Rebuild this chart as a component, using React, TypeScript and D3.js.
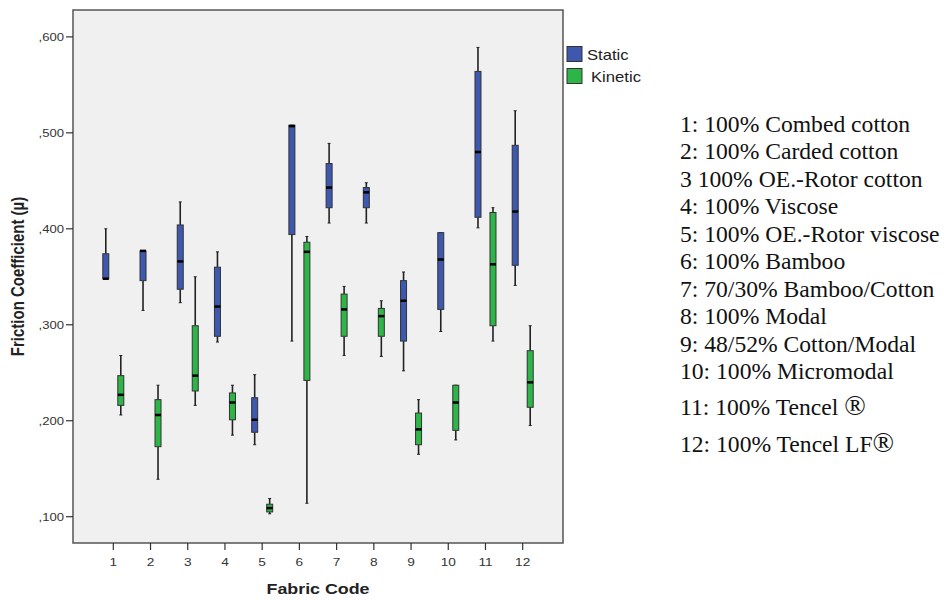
import React from 'react';
import * as d3 from 'd3';

const width = 944;
const height = 600;

const plot = { left: 73, right: 563, top: 10, bottom: 543 };

const codes = [1, 2, 3, 4, 5, 6, 7, 8, 9, 10, 11, 12];

// [min, q1, median, q3, max]
const staticBoxes = [
  [0.348, 0.348, 0.348, 0.374, 0.4],
  [0.315, 0.346, 0.377, 0.377, 0.377],
  [0.323, 0.337, 0.366, 0.404, 0.428],
  [0.282, 0.288, 0.319, 0.36, 0.376],
  [0.175, 0.188, 0.201, 0.224, 0.248],
  [0.283, 0.394, 0.507, 0.508, 0.508],
  [0.406, 0.422, 0.443, 0.468, 0.489],
  [0.406, 0.422, 0.438, 0.443, 0.448],
  [0.252, 0.283, 0.325, 0.346, 0.355],
  [0.293, 0.316, 0.368, 0.396, 0.396],
  [0.401, 0.412, 0.48, 0.564, 0.589],
  [0.341, 0.362, 0.418, 0.487, 0.523],
];

const kineticBoxes = [
  [0.206, 0.216, 0.227, 0.247, 0.268],
  [0.139, 0.173, 0.206, 0.222, 0.237],
  [0.216, 0.231, 0.247, 0.299, 0.35],
  [0.185, 0.201, 0.219, 0.229, 0.237],
  [0.103, 0.105, 0.109, 0.113, 0.119],
  [0.114, 0.242, 0.376, 0.386, 0.392],
  [0.268, 0.288, 0.316, 0.332, 0.34],
  [0.267, 0.288, 0.309, 0.317, 0.325],
  [0.165, 0.175, 0.191, 0.208, 0.222],
  [0.18, 0.19, 0.219, 0.237, 0.237],
  [0.283, 0.299, 0.363, 0.417, 0.422],
  [0.195, 0.214, 0.24, 0.273, 0.299],
];

const yTicks = [0.1, 0.2, 0.3, 0.4, 0.5, 0.6];

const series = [
  { name: 'Static', boxes: staticBoxes, color: '#3d58ae', offset: -7.5 },
  { name: 'Kinetic', boxes: kineticBoxes, color: '#2db547', offset: 7.5 },
];

const fabricNames = [
  '1: 100% Combed cotton',
  '2: 100% Carded cotton',
  '3 100% OE.-Rotor cotton',
  '4: 100% Viscose',
  '5: 100% OE.-Rotor viscose',
  '6: 100% Bamboo',
  '7: 70/30% Bamboo/Cotton',
  '8: 100% Modal',
  '9: 48/52% Cotton/Modal',
  '10: 100% Micromodal',
  '11: 100% Tencel ',
  '12: 100% Tencel LF',
];

const sans = "'Liberation Sans', Arial, sans-serif";
const serif = "'Liberation Serif', 'Times New Roman', serif";

// the source picture is a little wider than tall, so horizontal text is stretched
const stretch = 1.19;

function T({ x, y, sx = stretch, children, ...rest }: any) {
  return (
    <text transform={`translate(${x},${y}) scale(${sx},1)`} {...rest}>
      {children}
    </text>
  );
}

function App() {
  const x = d3.scalePoint<number>().domain(codes).range([113.3, 522.7]);
  const y = d3.scaleLinear().domain([0.0726, 0.628]).range([plot.bottom, plot.top]);
  const fmt = (v: number) => d3.format('.3f')(v).replace('0.', ',');
  const bw = 6;

  // fabric list baselines
  const listY = (i: number) => (i < 10 ? 131.7 + i * 27.5 : i === 10 ? 415 : 451.7);

  return (
    <svg
      width={width}
      height={height}
      style={{ position: 'absolute', left: 0, top: 0, background: '#fff' }}
    >
      <rect
        x={plot.left}
        y={plot.top}
        width={plot.right - plot.left}
        height={plot.bottom - plot.top}
        fill="#f0f0f0"
        stroke="#555"
        strokeWidth={1.5}
      />

      {/* y axis */}
      {yTicks.map((t) => (
        <g key={t}>
          <line x1={plot.left - 7} x2={plot.left} y1={y(t)} y2={y(t)} stroke="#333" strokeWidth={1.2} />
          <T x={plot.left - 9} y={y(t) + 4} textAnchor="end" fontFamily={sans} fontSize={11} fill="#333">
            {fmt(t)}
          </T>
        </g>
      ))}

      {/* x axis */}
      {codes.map((c) => (
        <g key={c}>
          <line x1={x(c)} x2={x(c)} y1={plot.bottom} y2={plot.bottom + 7} stroke="#333" strokeWidth={1.2} />
          <T x={x(c)} y={plot.bottom + 23} textAnchor="middle" fontFamily={sans} fontSize={11.5} fill="#333">
            {c}
          </T>
        </g>
      ))}

      {/* boxes */}
      {series.map((s) =>
        s.boxes.map((b, i) => {
          const cx = (x(codes[i]) as number) + s.offset;
          const [mn, q1, med, q3, mx] = b;
          return (
            <g key={s.name + i}>
              <line x1={cx} x2={cx} y1={y(mx)} y2={y(q3)} stroke="#222" strokeWidth={1.6} />
              <line x1={cx} x2={cx} y1={y(q1)} y2={y(mn)} stroke="#222" strokeWidth={1.6} />
              <line x1={cx - 1.5} x2={cx + 1.5} y1={y(mx)} y2={y(mx)} stroke="#222" strokeWidth={1} />
              <line x1={cx - 1.5} x2={cx + 1.5} y1={y(mn)} y2={y(mn)} stroke="#222" strokeWidth={1} />
              <rect
                x={cx - bw / 2}
                y={y(q3)}
                width={bw}
                height={Math.max(1, y(q1) - y(q3))}
                fill={s.color}
                stroke="#333"
                strokeWidth={1}
              />
              <line x1={cx - bw / 2} x2={cx + bw / 2} y1={y(med)} y2={y(med)} stroke="#000" strokeWidth={2.5} />
            </g>
          );
        })
      )}

      {/* legend */}
      {series.map((s, i) => (
        <g key={s.name}>
          <rect x={567} y={46.5 + i * 22} width={15} height={15} fill={s.color} stroke="#333" strokeWidth={1} />
          <T x={i === 0 ? 587 : 591} y={59.5 + i * 22} fontFamily={sans} fontSize={14} fill="#222">
            {s.name}
          </T>
        </g>
      ))}

      {/* axis titles */}
      <text
        transform={`translate(24, ${(plot.top + plot.bottom) / 2}) rotate(-90) scale(1,${stretch})`}
        textAnchor="middle"
        fontFamily={sans}
        fontWeight="bold"
        fontSize={15}
        fill="#222"
      >
        Friction Coefficient (µ)
      </text>
      <T
        x={(plot.left + plot.right) / 2}
        y={594}
        textAnchor="middle"
        fontFamily={sans}
        fontWeight="bold"
        fontSize={15}
        fill="#222"
      >
        Fabric Code
      </T>

      {/* fabric code list */}
      {fabricNames.map((n, i) => (
        <T key={n} x={680} y={listY(i)} sx={1.05} fontFamily={serif} fontSize={22.5} fill="#111">
          {n}
          {i >= 10 && <tspan fontSize={27}>®</tspan>}
        </T>
      ))}
    </svg>
  );
}

export default App;
